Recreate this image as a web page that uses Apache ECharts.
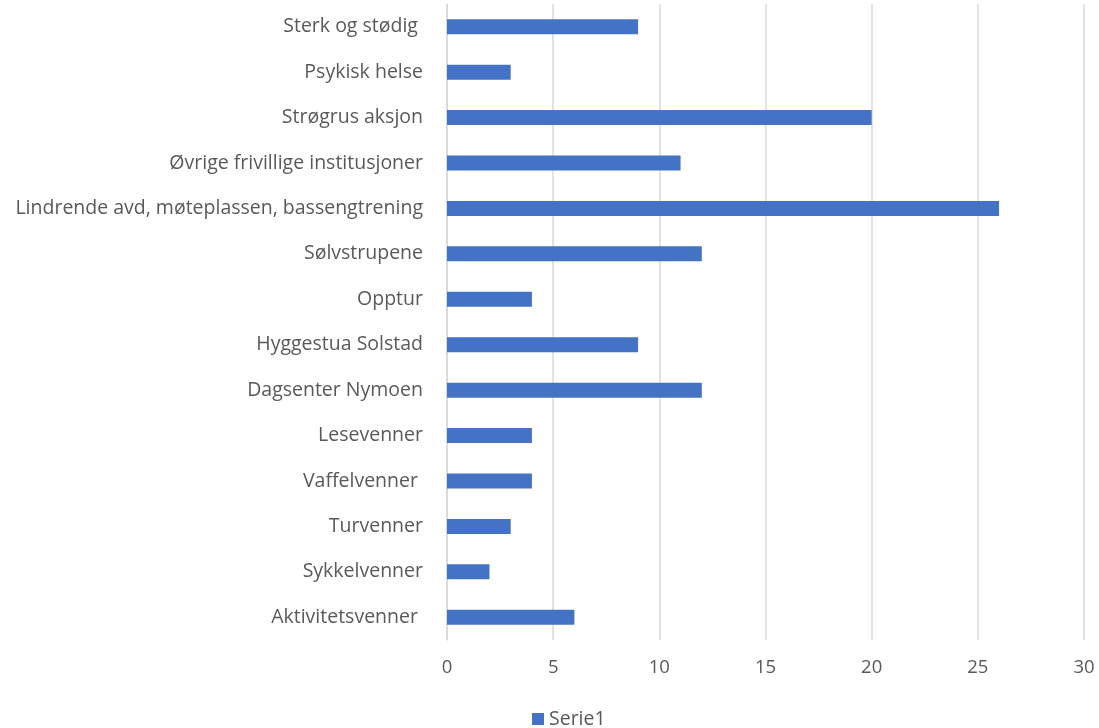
<!DOCTYPE html>
<html>
<head>
<meta charset="utf-8">
<script src="https://cdn.jsdelivr.net/npm/echarts@6/dist/echarts.min.js"></script>
<style>html,body{margin:0;padding:0;background:#fff}#c{width:1099px;height:728px}</style>
</head>
<body>
<div id="c"></div>
<script>
const categories = [
  "Sterk og stødig ",
  "Psykisk helse",
  "Strøgrus aksjon",
  "Øvrige frivillige institusjoner",
  "Lindrende avd, møteplassen, bassengtrening",
  "Sølvstrupene",
  "Opptur",
  "Hyggestua Solstad",
  "Dagsenter Nymoen",
  "Lesevenner",
  "Vaffelvenner ",
  "Turvenner",
  "Sykkelvenner",
  "Aktivitetsvenner "
];
const serie1 = [9, 3, 20, 11, 26, 12, 4, 9, 12, 4, 4, 3, 2, 6];
const seriesName = "Serie1";

const chart = echarts.init(document.getElementById('c'));
chart.setOption({
  animation: false,
  textStyle: { fontFamily: 'Open Sans' },
  grid: { left: 447, right: 15, top: 4, bottom: 88 },
  legend: {
    data: [seriesName],
    left: 527, top: 704,
    itemWidth: 12, itemHeight: 12, itemGap: 3,
    icon: 'rect',
    textStyle: { color: '#595959', fontSize: 19.5, fontFamily: 'Open Sans' }
  },
  xAxis: {
    type: 'value', min: 0, max: 30, interval: 5,
    axisLine: { show: false }, axisTick: { show: false },
    splitLine: { lineStyle: { color: '#d9d9d9', width: 1.5 } },
    axisLabel: { color: '#595959', fontSize: 18.5, margin: 18 }
  },
  yAxis: {
    type: 'category', data: categories, inverse: true,
    axisLine: { show: true, lineStyle: { color: '#d9d9d9', width: 1.5 } },
    axisTick: { show: false },
    axisLabel: { color: '#595959', fontSize: 19.5, margin: 24 }
  },
  series: [{
    name: seriesName, type: 'bar', data: serie1, barWidth: 15,
    itemStyle: { color: '#4472C4' }
  }]
});
</script>
</body>
</html>
